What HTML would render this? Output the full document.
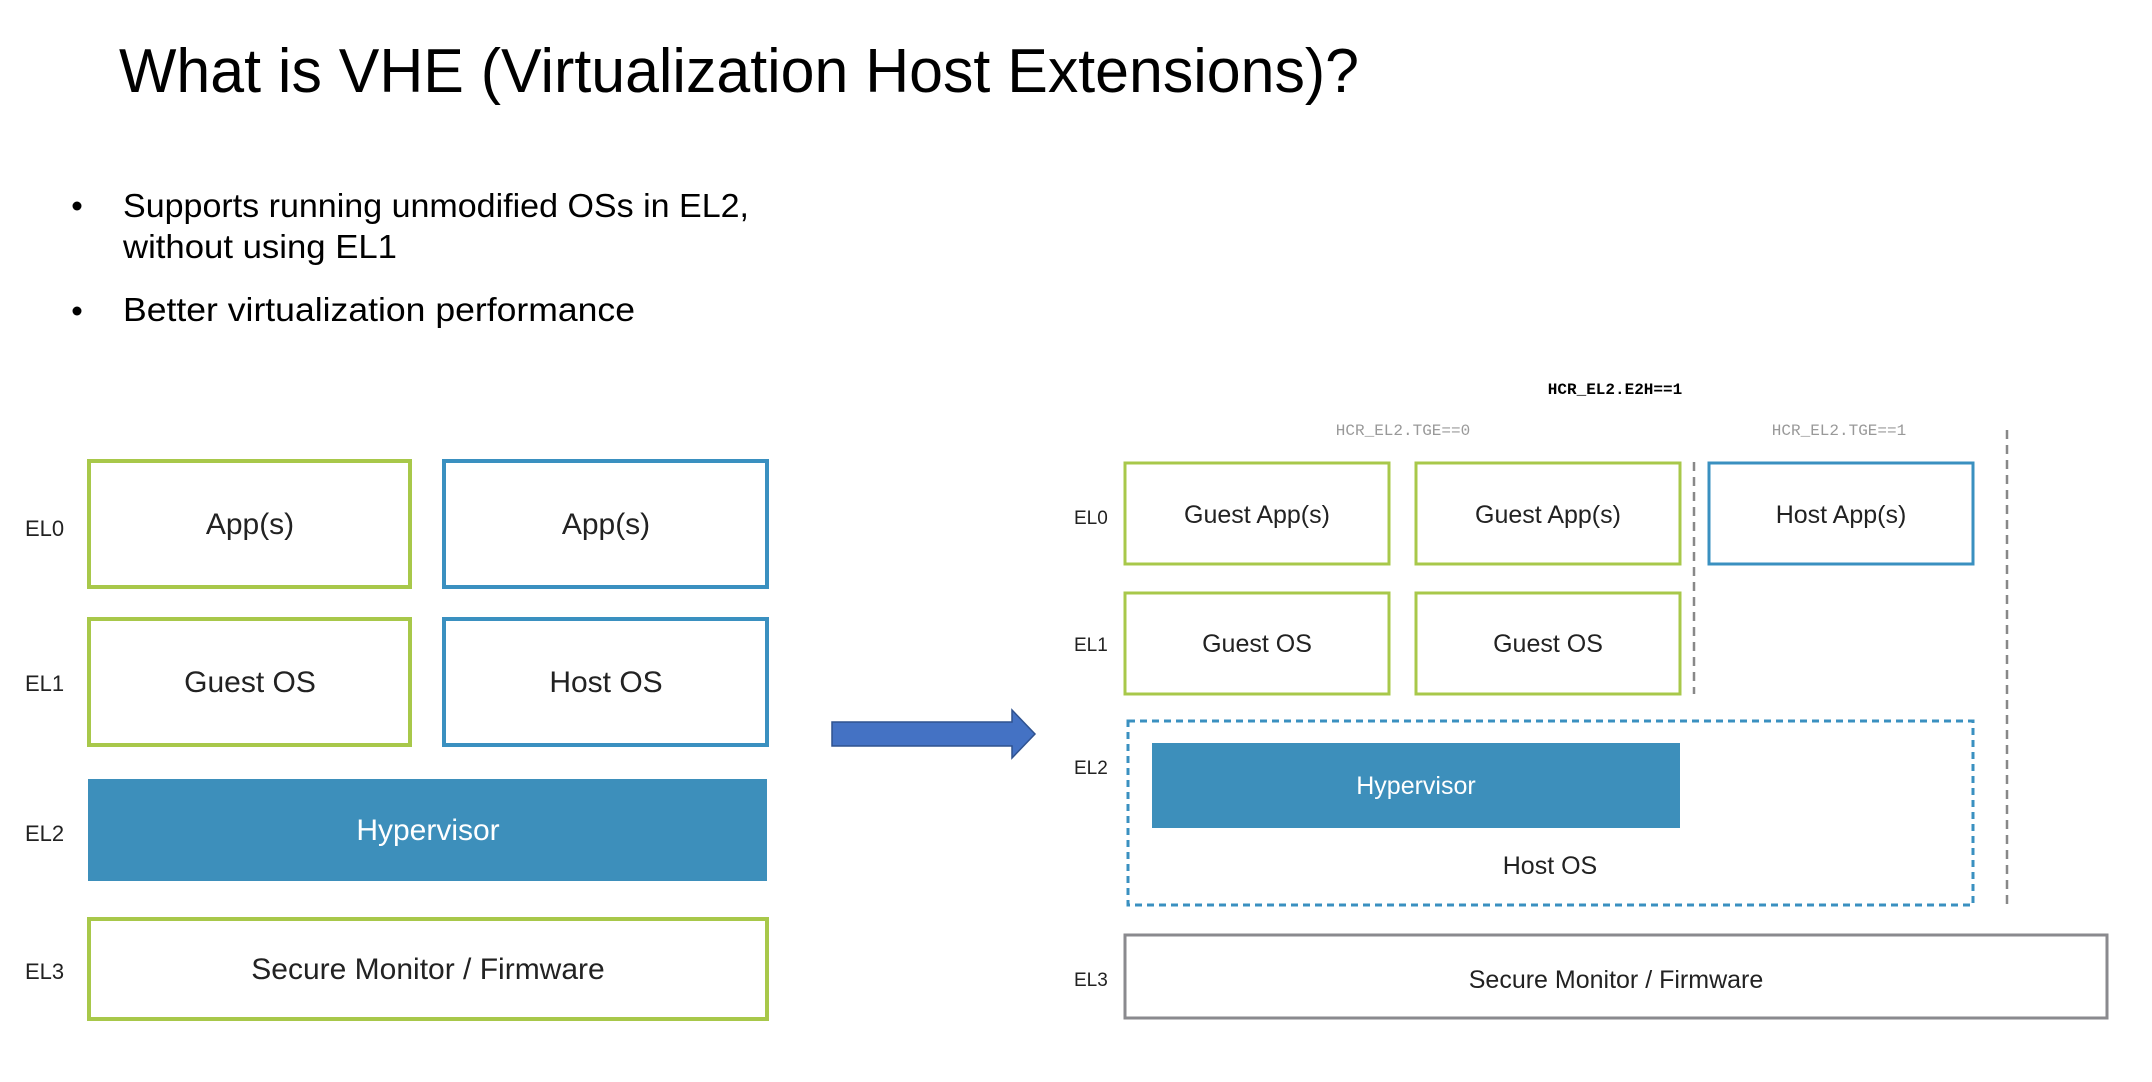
<!DOCTYPE html>
<html><head><meta charset="utf-8"><style>
html,body{margin:0;padding:0;background:#fff;}
svg{display:block;}
text{font-family:"Liberation Sans",sans-serif;}
.m{font-family:"Liberation Mono",monospace;}
</style></head><body>
<svg width="2152" height="1082" viewBox="0 0 2152 1082" xmlns="http://www.w3.org/2000/svg">
<rect width="2152" height="1082" fill="#fff"/>
<text x="119" y="92" font-size="62" textLength="1240" lengthAdjust="spacingAndGlyphs" fill="#000">What is VHE (Virtualization Host Extensions)?</text>
<circle cx="77" cy="206" r="4.5" fill="#000"/>
<circle cx="77" cy="311" r="4.5" fill="#000"/>
<text x="123" y="217" font-size="33" textLength="626" lengthAdjust="spacingAndGlyphs">Supports running unmodified OSs in EL2,</text>
<text x="123" y="258" font-size="33" textLength="274" lengthAdjust="spacingAndGlyphs">without using EL1</text>
<text x="123" y="321" font-size="33" textLength="512" lengthAdjust="spacingAndGlyphs">Better virtualization performance</text>

<g transform="translate(0,-3)">
<g font-size="22" fill="#222">
<text x="25" y="539">EL0</text><text x="25" y="694">EL1</text><text x="25" y="844">EL2</text><text x="25" y="982">EL3</text>
</g>
<g fill="none" stroke-width="4">
<rect x="89" y="464" width="321" height="126" stroke="#a8c84a"/>
<rect x="444" y="464" width="323" height="126" stroke="#3a90c0"/>
<rect x="89" y="622" width="321" height="126" stroke="#a8c84a"/>
<rect x="444" y="622" width="323" height="126" stroke="#3a90c0"/>
<rect x="89" y="922" width="678" height="100" stroke="#a8c84a"/>
</g>
<rect x="88" y="782" width="679" height="102" fill="#3d8fbb"/>
<g font-size="30" text-anchor="middle" fill="#222">
<text x="250" y="537">App(s)</text><text x="606" y="537">App(s)</text>
<text x="250" y="695">Guest OS</text><text x="606" y="695">Host OS</text>
<text x="428" y="843" fill="#fff">Hypervisor</text>
<text x="428" y="982">Secure Monitor / Firmware</text>
</g>
</g>

<polygon points="832,722 1012,722 1012,710 1035,734 1012,758 1012,746 832,746" fill="#4472c4" stroke="#2f528f" stroke-width="1.5"/>

<g transform="translate(-7,-3)">
<text x="1622" y="397" class="m" font-size="16" font-weight="bold" text-anchor="middle">HCR_EL2.E2H==1</text>
<text x="1410" y="438" class="m" font-size="16" fill="#999" text-anchor="middle">HCR_EL2.TGE==0</text>
<text x="1846" y="438" class="m" font-size="16" fill="#999" text-anchor="middle">HCR_EL2.TGE==1</text>
<g font-size="19" fill="#222">
<text x="1081" y="527">EL0</text><text x="1081" y="654">EL1</text><text x="1081" y="777">EL2</text><text x="1081" y="989">EL3</text>
</g>
<g fill="none" stroke-width="3">
<rect x="1132" y="466" width="264" height="101" stroke="#a8c84a"/>
<rect x="1423" y="466" width="264" height="101" stroke="#a8c84a"/>
<rect x="1716" y="466" width="264" height="101" stroke="#3a90c0"/>
<rect x="1132" y="596" width="264" height="101" stroke="#a8c84a"/>
<rect x="1423" y="596" width="264" height="101" stroke="#a8c84a"/>
<rect x="1135" y="724" width="845" height="184" stroke="#3a90c0" stroke-dasharray="7,5"/>
<rect x="1132" y="938" width="982" height="83" stroke="#8a8a8e"/>
<line x1="1701" y1="465" x2="1701" y2="697" stroke="#888" stroke-width="2.5" stroke-dasharray="9,6"/>
<line x1="2014" y1="433" x2="2014" y2="911" stroke="#888" stroke-width="2.5" stroke-dasharray="9,6"/>
</g>
<rect x="1159" y="746" width="528" height="85" fill="#3d8fbb"/>
<g font-size="25" text-anchor="middle" fill="#222">
<text x="1264" y="526">Guest App(s)</text><text x="1555" y="526">Guest App(s)</text><text x="1848" y="526">Host App(s)</text>
<text x="1264" y="655">Guest OS</text><text x="1555" y="655">Guest OS</text>
<text x="1423" y="797" fill="#fff">Hypervisor</text>
<text x="1557" y="877">Host OS</text>
<text x="1623" y="991">Secure Monitor / Firmware</text>
</g>
</g>
</svg>
</body></html>
